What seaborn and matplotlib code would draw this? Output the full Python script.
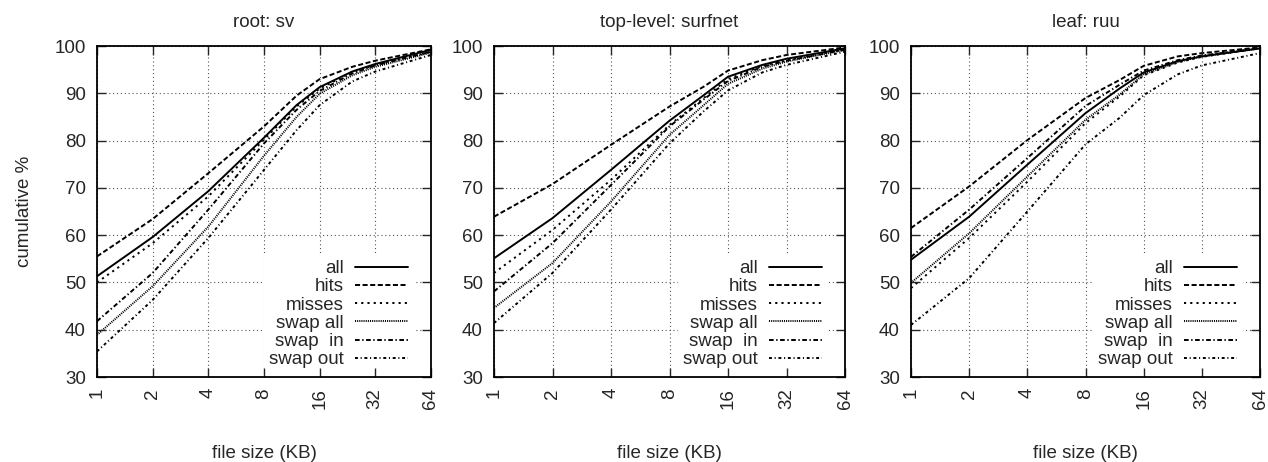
import numpy as np
import pandas as pd
import matplotlib
matplotlib.use("Agg")
import matplotlib.pyplot as plt
import seaborn as sns

# ---------------- data ----------------
sizes = [1, 2, 4, 8, 12, 16, 24, 32, 64]
series_names = ["all", "hits", "misses", "swap all", "swap  in", "swap out"]
panel_titles = ["root: sv", "top-level: surfnet", "leaf: ruu"]
xtick_values = [1, 2, 4, 8, 16, 32, 64]
ytick_values = [30, 40, 50, 60, 70, 80, 90, 100]

root_all      = [51.3, 59.6, 69.3, 80.6, 87.5, 91.3, 94.6, 96.2, 99.2]
root_hits     = [55.5, 63.4, 73.1, 83.0, 89.5, 93.0, 95.6, 96.9, 99.3]
root_misses   = [50.0, 58.3, 68.2, 80.2, 87.2, 91.0, 94.5, 96.0, 98.8]
root_swapall  = [38.9, 49.2, 61.8, 76.8, 85.0, 89.9, 93.8, 95.6, 98.6]
root_swapin   = [41.8, 52.0, 65.4, 79.4, 86.5, 90.5, 94.2, 95.9, 98.8]
root_swapout  = [35.4, 46.3, 59.4, 73.8, 82.2, 87.5, 92.5, 94.6, 98.1]

top_all      = [55.1, 63.6, 73.8, 84.2, 89.6, 93.5, 96.0, 97.3, 99.5]
top_hits     = [63.9, 70.8, 79.1, 87.2, 91.4, 94.8, 97.0, 98.1, 99.7]
top_misses   = [52.0, 61.1, 71.7, 83.3, 89.0, 93.0, 95.8, 97.0, 99.3]
top_swapall  = [44.6, 54.1, 67.1, 81.2, 87.5, 92.0, 95.2, 96.7, 99.2]
top_swapin   = [48.1, 58.3, 70.6, 83.0, 88.7, 92.6, 95.6, 96.9, 99.2]
top_swapout  = [41.4, 52.0, 65.4, 79.4, 86.2, 90.6, 94.4, 96.0, 98.8]

leaf_all      = [54.8, 63.9, 74.9, 85.8, 91.0, 94.4, 96.8, 97.8, 99.5]
leaf_hits     = [61.5, 70.3, 80.1, 89.0, 92.8, 95.8, 97.8, 98.5, 99.7]
leaf_misses   = [48.8, 59.4, 71.3, 83.7, 89.3, 93.8, 96.5, 97.7, 99.5]
leaf_swapall  = [49.9, 60.4, 72.4, 84.4, 89.7, 94.0, 96.6, 97.8, 99.5]
leaf_swapin   = [55.4, 65.4, 76.3, 87.3, 91.8, 94.8, 97.0, 98.0, 99.5]
leaf_swapout  = [41.0, 50.9, 65.0, 79.2, 84.8, 89.6, 94.0, 95.9, 98.5]

panels = [
    [root_all, root_hits, root_misses, root_swapall, root_swapin, root_swapout],
    [top_all, top_hits, top_misses, top_swapall, top_swapin, top_swapout],
    [leaf_all, leaf_hits, leaf_misses, leaf_swapall, leaf_swapin, leaf_swapout],
]

# ---------------- style ----------------
sns.set_style("white")
plt.rcParams["font.family"] = ["Liberation Sans", "DejaVu Sans"]
plt.rcParams["font.size"] = 13

line_styles = {
    "all": "-",
    "hits": (0, (2.6, 1.3)),
    "misses": (0, (1.1, 2.1)),
    "swap all": (0, (0.55, 0.55)),
    "swap  in": (0, (2.4, 1.3, 0.7, 1.3)),
    "swap out": (0, (1.5, 1.4, 0.55, 1.4)),
}

W, H = 1268, 462
fig = plt.figure(figsize=(W / 100, H / 100), dpi=100)

# axes pixel boxes (left, right)
xbounds = [(97, 431), (494, 845), (911, 1260)]
ytop, ybot = 46, 377

for i, (x0, x1) in enumerate(xbounds):
    pos = [x0 / W, (H - ybot) / H, (x1 - x0) / W, (ybot - ytop) / H]
    ax = fig.add_axes(pos)
    df = pd.DataFrame({
        "size": np.tile(sizes, len(series_names)),
        "pct": np.concatenate(panels[i]),
        "series": np.repeat(series_names, len(sizes)),
    })
    for name in series_names:
        sub = df[df["series"] == name]
        sns.lineplot(data=sub, x="size", y="pct", ax=ax, color="black",
                     linewidth=1.4, linestyle=line_styles[name], label=name,
                     legend=False)
    ax.set_xscale("log", base=2)
    ax.set_xlim(1, 64)
    ax.set_ylim(30, 100)
    ax.set_xticks(xtick_values)
    ax.set_xticklabels([str(v) for v in xtick_values], rotation=90)
    ax.minorticks_off()
    ax.set_yticks(ytick_values)
    ax.set_yticklabels([str(v) for v in ytick_values])
    ax.tick_params(axis="both", length=0, pad=8, labelsize=13.5)
    ax.grid(True, color="#555555", linestyle=(0, (1, 2.5)), linewidth=0.8)
    for s in ax.spines.values():
        s.set_visible(False)
    ax.set_title(panel_titles[i], fontsize=13.5, pad=14)
    ax.set_xlabel("file size (KB)", fontsize=13.5)
    ax.xaxis.set_label_coords(0.5, (ybot - 445) / (ybot - ytop))
    if i == 0:
        ax.set_ylabel("cumulative %", fontsize=13.5)
        ax.yaxis.set_label_coords((33 - x0) / (x1 - x0), 0.5)
    else:
        ax.set_ylabel("")

    wpx = x1 - x0
    hpx = ybot - ytop
    handles, labels = ax.get_legend_handles_labels()
    leg = ax.legend(handles, labels, loc="lower right",
                    bbox_to_anchor=(1 - 17.6 / wpx, 3 / hpx),
                    borderaxespad=0, markerfirst=False, fontsize=13.5,
                    labelspacing=0.06, handlelength=2.8, handletextpad=0.6,
                    borderpad=0.3, frameon=True, fancybox=False,
                    facecolor="white", edgecolor="white", framealpha=1)

    # overlay axes for border & inward ticks on all four sides
    axt = fig.add_axes(pos, sharex=ax, sharey=ax)
    axt.set_zorder(ax.get_zorder() + 1)
    axt.patch.set_visible(False)
    axt.grid(False)
    axt.tick_params(axis="both", which="both", direction="in", length=6.5,
                    width=1.0, top=True, right=True, bottom=True, left=True,
                    labelbottom=False, labelleft=False, labeltop=False,
                    labelright=False)
    axt.minorticks_off()
    for s in axt.spines.values():
        s.set_visible(True)
        s.set_linewidth(1.3)
        s.set_color("black")
    axt.set_xlabel("")
    axt.set_ylabel("")

fig.savefig("out.png", dpi=100)
